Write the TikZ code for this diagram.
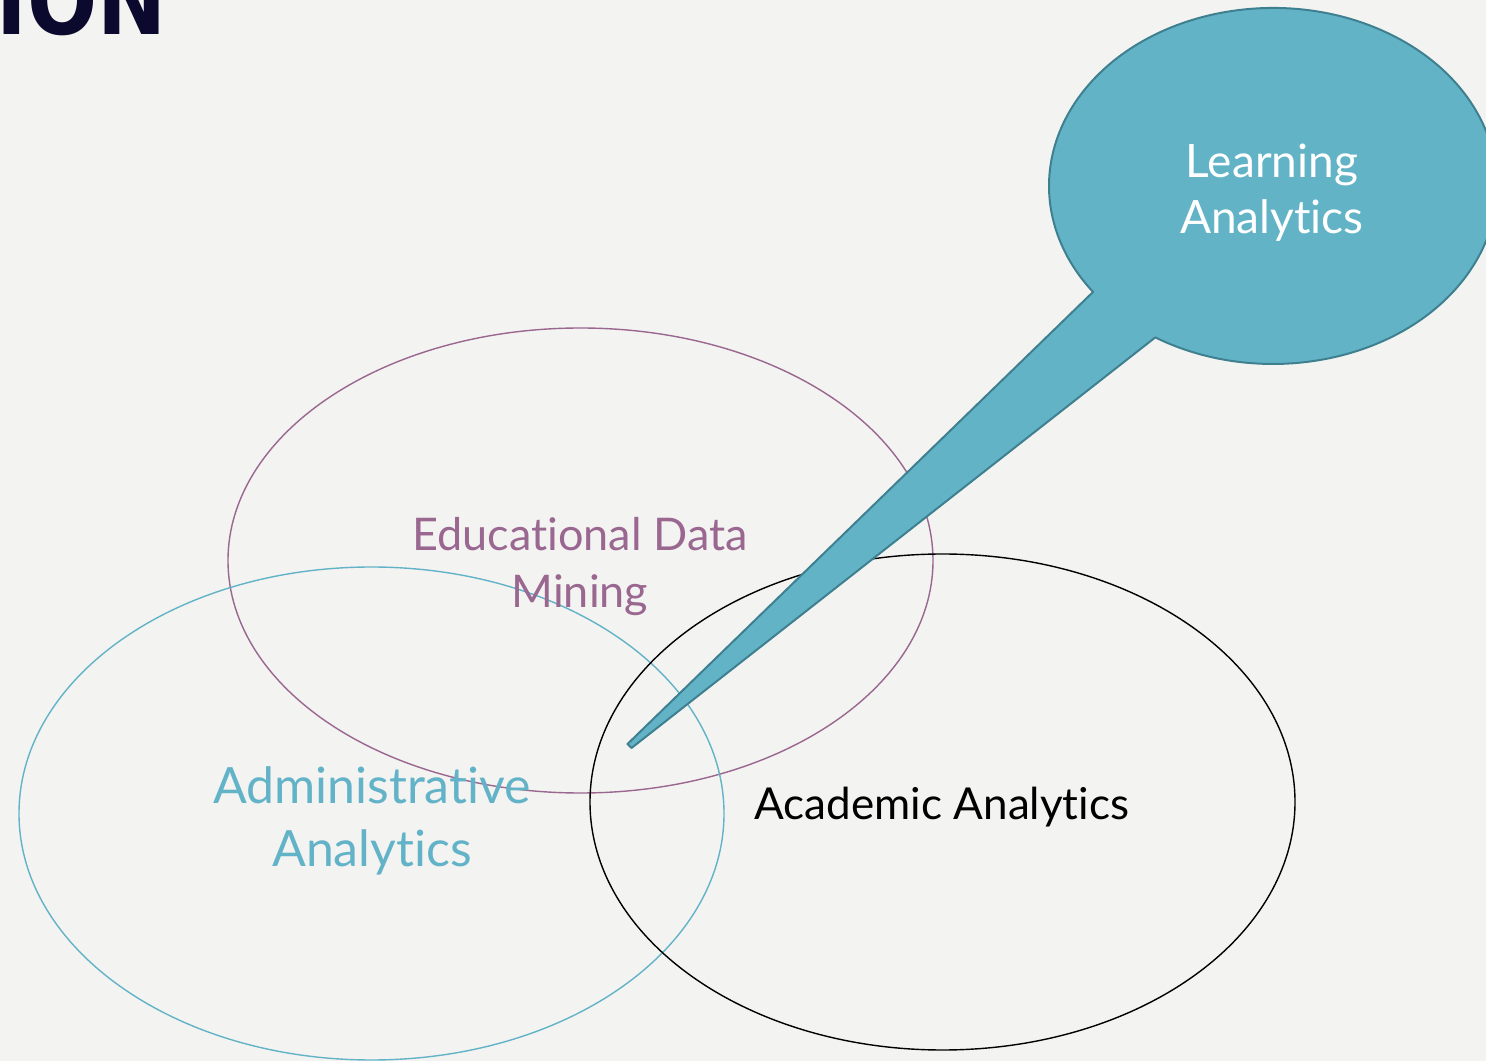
\documentclass[tikz,border=0pt]{standalone}
\usepackage{fontspec}
\setmainfont{Lato}[Ligatures=NoCommon]
\newfontfamily\headfont{DejaVu Sans}
\usetikzlibrary{shapes.geometric}
\definecolor{bg}{HTML}{F3F3F1}
\definecolor{navy}{HTML}{0B0A2E}
\definecolor{edmcol}{HTML}{9A6790}
\definecolor{admcol}{HTML}{63B3C8}
\definecolor{lafill}{HTML}{63B3C7}
\definecolor{laline}{HTML}{3F8090}
\tikzset{
  venn/.style={ellipse, draw, line width=1.4pt, inner sep=0pt},
  lbl/.style={anchor=base, inner sep=0pt},
}
\begin{document}
\begin{tikzpicture}[x=1pt,y=1pt]
  \useasboundingbox (0,0) rectangle (1486,1061);
  \fill[bg] (0,0) rectangle (1486,1061);
  \clip (0,0) rectangle (1486,1061);

  % heading fragment at the top edge
  \node[anchor=base east, inner sep=0pt, text=navy] (head) at (167,1026)
    {\scalebox{0.86}[1]{\headfont\bfseries\fontsize{96}{96}\selectfont ION}};

  % the three overlapping sets
  \node[venn, draw=edmcol, minimum width=705, minimum height=465] (edm) at (580.5,500.5) {};
  \node[venn, draw=admcol, minimum width=705, minimum height=493] (adm) at (371.5,247.5) {};
  \node[venn, draw=black, minimum width=705, minimum height=496] (aca) at (942.5,259) {};

  % set labels
  \node[lbl, text=edmcol, font=\fontsize{45}{57}\selectfont] (edmA) at (580,510) {Educational Data};
  \node[lbl, text=edmcol, font=\fontsize{45}{57}\selectfont] (edmB) at (580,453) {Mining};
  \node[lbl, text=admcol, font=\fontsize{50}{63}\selectfont] (admA) at (372,258) {Administrative};
  \node[lbl, text=admcol, font=\fontsize{50}{63}\selectfont] (admB) at (372,195) {Analytics};
  \node[lbl, text=black, font=\fontsize{44}{56}\selectfont] (acaA) at (942,241) {Academic Analytics};

  % speech bubble pointing into the overlap
  \coordinate (la) at (1273,875);
  \coordinate (baseL) at (1093,769);
  \coordinate (tipA) at (627.5,317);
  \coordinate (tipB) at (631.5,313);
  \coordinate (baseR) at (1155.3,723.6);
  \draw[fill=lafill, draw=laline, line width=2pt, line join=round]
    (baseL) -- (tipA) -- (tipB) -- (baseR)
    arc[start angle=238.3, end angle=576.5, x radius=224, y radius=178] -- cycle;
  \node[lbl, text=white, font=\fontsize{46}{56}\selectfont] (laA) at (1272,883) {Learning};
  \node[lbl, text=white, font=\fontsize{46}{56}\selectfont] (laB) at (1272,827) {Analytics};
\end{tikzpicture}
\end{document}
